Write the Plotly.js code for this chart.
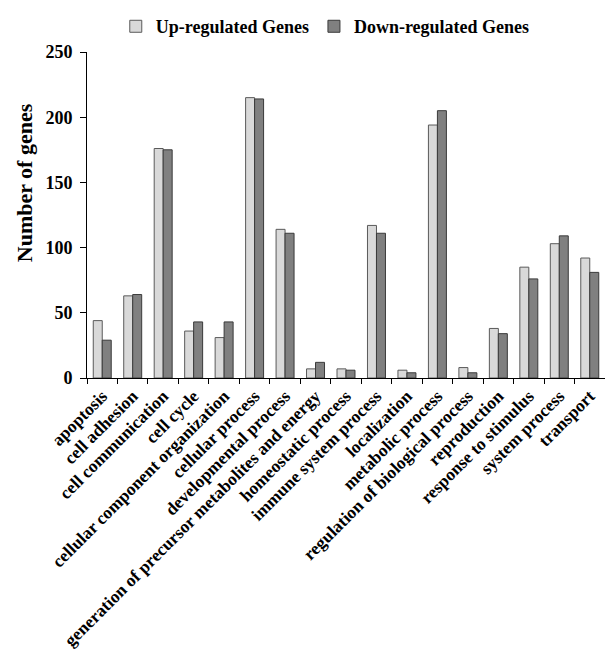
<!DOCTYPE html>
<html>
<head>
<meta charset="utf-8">
<script src="https://cdn.plot.ly/plotly-3.0.1.min.js"></script>
<style>html,body{margin:0;padding:0;background:#fff;}#chart{width:605px;height:650px;}</style>
</head>
<body>
<div id="chart"></div>
<script>
const categories = [
  "apoptosis", "cell adhesion", "cell communication", "cell cycle",
  "cellular component organization", "cellular process", "developmental process",
  "generation of precursor metabolites and energy", "homeostatic process",
  "immune system process", "localization", "metabolic process",
  "regulation of biological process", "reproduction", "response to stimulus",
  "system process", "transport"
];
const upRegulated   = [44, 63, 176, 36, 31, 215, 114, 7, 7, 117, 6, 194, 8, 38, 85, 103, 92];
const downRegulated = [29, 64, 175, 43, 43, 214, 111, 12, 6, 111, 4, 205, 4, 34, 76, 109, 81];
const yTicks = [0, 50, 100, 150, 200, 250];

const serif = "Liberation Serif, Times New Roman, serif";
const traces = [
  {type: "bar", name: "<b>Up-regulated Genes</b>", x: categories, y: upRegulated,
   marker: {color: "#d9d9d9", line: {color: "#5a5a5a", width: 1}}},
  {type: "bar", name: "<b>Down-regulated Genes</b>", x: categories, y: downRegulated,
   marker: {color: "#808080", line: {color: "#3a3a3a", width: 1}}}
];
const layout = {
  width: 605, height: 650,
  margin: {l: 87, r: 0, t: 52, b: 272},
  paper_bgcolor: "#ffffff", plot_bgcolor: "#ffffff",
  barmode: "group", bargap: 0.41, bargroupgap: 0,
  font: {family: serif, color: "#000000"},
  showlegend: true,
  legend: {orientation: "h", x: 0.46, xanchor: "center", y: 1.078, yanchor: "middle",
           font: {family: serif, size: 18, color: "#000"}, itemwidth: 30, traceorder: "normal"},
  xaxis: {
    type: "category", tickson: "boundaries", ticks: "outside", ticklen: 5, tickcolor: "#000",
    showline: true, linecolor: "#000", linewidth: 1, showgrid: false,
    tickangle: -45, tickfont: {family: serif, size: 17.5, color: "#000", weight: "bold"},
    range: [-0.5, 16.5]
  },
  yaxis: {
    range: [0, 250], tickvals: yTicks, ticktext: yTicks.map(v => "<b>" + v + "</b>"),
    ticks: "outside", ticklen: 6, tickcolor: "#000", ticklabelstandoff: 4,
    showline: true, linecolor: "#000", linewidth: 1, showgrid: false, zeroline: false,
    tickfont: {family: serif, size: 18, color: "#000"}
  },
  annotations: [{
    text: "<b>Number of genes</b>", xref: "paper", yref: "paper",
    x: -0.12, y: 0.6, xanchor: "center", yanchor: "middle", textangle: -90,
    showarrow: false, font: {family: serif, size: 22, color: "#000"}
  }]
};
Plotly.newPlot("chart", traces, layout, {displayModeBar: false, staticPlot: true});
</script>
</body>
</html>
